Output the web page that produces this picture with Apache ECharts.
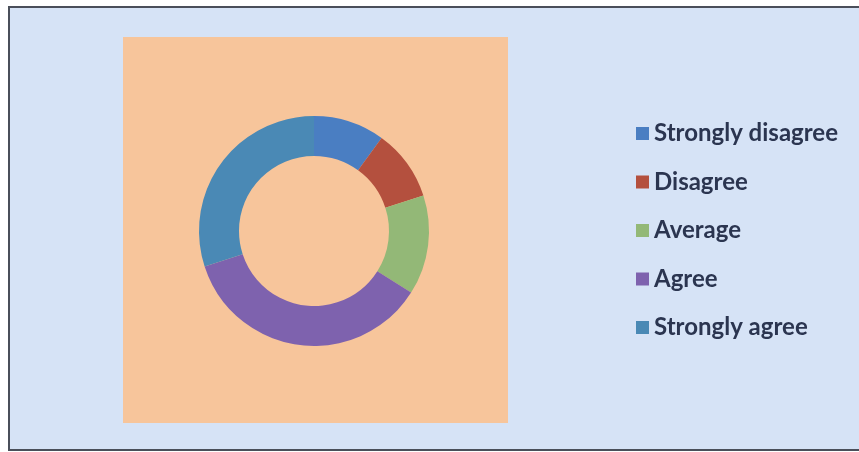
<!DOCTYPE html>
<html>
<head>
<meta charset="utf-8">
<script src="https://cdn.jsdelivr.net/npm/echarts@6/dist/echarts.min.js"></script>
<style>
html,body{margin:0;padding:0;background:#ffffff;}
#chart{width:859px;height:452px;}
</style>
</head>
<body>
<div id="chart"></div>
<script>
var categories = ['Strongly disagree', 'Disagree', 'Average', 'Agree', 'Strongly agree'];
var values = [10, 10, 14, 36, 30];
var colors = ['#4a7ec2', '#b4503e', '#93b877', '#7e62ae', '#4a89b5'];

var chart = echarts.init(document.getElementById('chart'), null, {renderer: 'canvas'});
var data = categories.map(function (c, i) {
  return {name: c, value: values[i], itemStyle: {color: colors[i]}};
});
chart.setOption({
  animation: false,
  backgroundColor: '#ffffff',
  graphic: [
    {type: 'rect', z: -10, shape: {x: 9, y: 7, width: 856, height: 443},
     style: {fill: '#d6e3f6', stroke: '#4a4f5a', lineWidth: 2}},
    {type: 'rect', z: -9, shape: {x: 123, y: 37, width: 385, height: 386},
     style: {fill: '#f7c59b'}}
  ],
  legend: {
    orient: 'vertical',
    left: 631,
    top: 116.5,
    itemWidth: 13,
    itemHeight: 13,
    itemGap: 24.5,
    icon: 'rect',
    selectedMode: false,
    data: categories,
    textStyle: {fontFamily: 'Lato', fontWeight: 'bold', fontSize: 24, lineHeight: 24, color: '#2b3550'}
  },
  series: [{
    type: 'pie',
    center: [314, 231],
    radius: [75, 115],
    startAngle: 90,
    clockwise: true,
    silent: true,
    label: {show: false},
    labelLine: {show: false},
    data: data
  }]
});
</script>
</body>
</html>
